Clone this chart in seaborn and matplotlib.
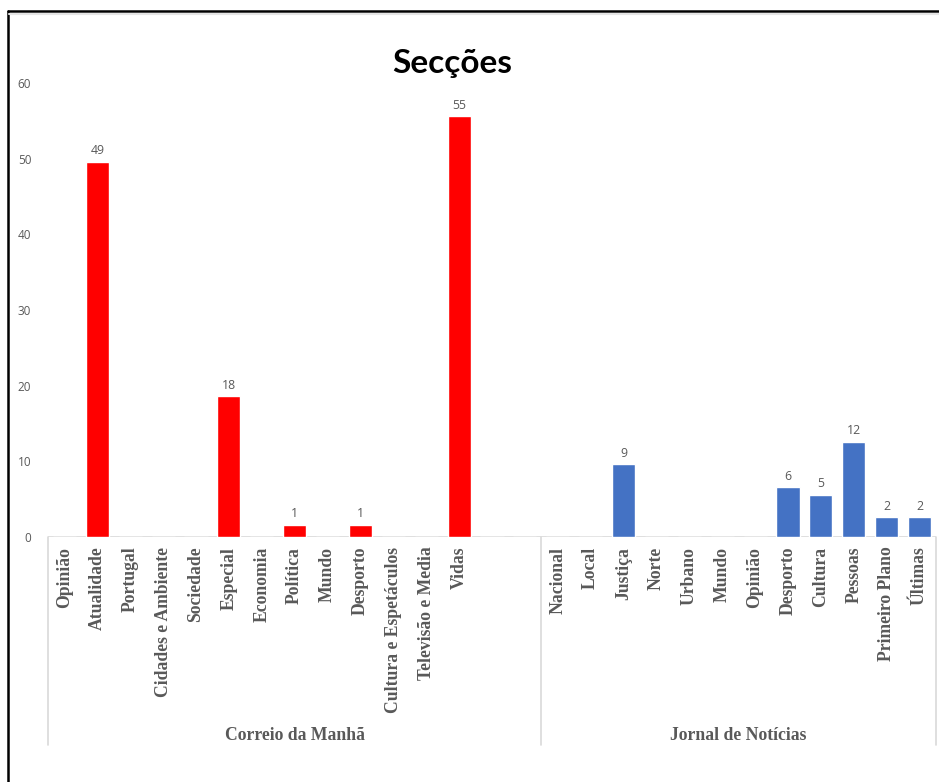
import matplotlib
matplotlib.use("Agg")
import matplotlib.pyplot as plt
from matplotlib.lines import Line2D
import seaborn as sns
import pandas as pd

# ---- data ----
cm_sections = ["Opinião", "Atualidade", "Portugal", "Cidades e Ambiente", "Sociedade",
               "Especial", "Economia", "Política", "Mundo", "Desporto",
               "Cultura e Espetáculos", "Televisão e Media", "Vidas"]
cm_values = [0, 49.6, 0, 0, 0, 18.6, 0, 1.6, 0, 1.6, 0, 0, 55.6]
cm_labels = ["", "49", "", "", "", "18", "", "1", "", "1", "", "", "55"]
cm_blank_slots = 2

jn_sections = ["Nacional", "Local", "Justiça", "Norte", "Urbano", "Mundo", "Opinião",
               "Desporto", "Cultura", "Pessoas", "Primeiro Plano", "Últimas"]
jn_values = [0, 0, 9.6, 0, 0, 0, 0, 6.6, 5.6, 12.6, 2.6, 2.6]
jn_labels = ["", "", "9", "", "", "", "", "6", "5", "12", "2", "2"]

groups = ["Correio da Manhã", "Jornal de Notícias"]
colors = {"Correio da Manhã": "#FF0000", "Jornal de Notícias": "#4472C4"}
title = "Secções"

# ---- build table ----
rows = []
tick_text = []
bar_text = []
for i, (s, v, l) in enumerate(zip(cm_sections, cm_values, cm_labels)):
    rows.append({"slot": f"cm{i}", "value": v, "grupo": groups[0]})
    tick_text.append(s); bar_text.append(l)
for k in range(cm_blank_slots):
    rows.append({"slot": f"cmblank{k}", "value": 0, "grupo": groups[0]})
    tick_text.append(""); bar_text.append("")
for i, (s, v, l) in enumerate(zip(jn_sections, jn_values, jn_labels)):
    rows.append({"slot": f"jn{i}", "value": v, "grupo": groups[1]})
    tick_text.append(s); bar_text.append(l)
df = pd.DataFrame(rows)
order = list(df["slot"])

sns.set_theme(style="white")
plt.rcParams["font.family"] = ["Liberation Serif", "DejaVu Sans"]

fig = plt.figure(figsize=(9.39, 7.82), dpi=100)
ax = fig.add_axes([48 / 939, (782 - 537) / 782, (936 - 48) / 939, (537 - 83) / 782])

sns.barplot(data=df, x="slot", y="value", hue="grupo", order=order, palette=colors,
            dodge=False, width=0.7, legend=False, ax=ax, errorbar=None, saturation=1)

ax.set_xlim(-0.5, len(order) - 0.5)
ax.set_ylim(0, 60)
ax.set_yticks(range(0, 61, 10))
ax.set_xlabel("")
ax.set_ylabel("")
for sp in ax.spines.values():
    sp.set_visible(False)
ax.axhline(0, color="#D9D9D9", lw=1.2, zorder=0)

ax.tick_params(axis="y", length=0, pad=12, labelcolor="#595959", labelsize=8.5)
for t in ax.get_yticklabels():
    t.set_fontfamily("Open Sans")

ax.set_xticks(range(len(order)))
ax.set_xticklabels(tick_text, rotation=90, fontsize=12.7, fontweight="bold",
                   color="#595959", va="top", ha="center")
ax.tick_params(axis="x", length=0, pad=7)

# data labels
for idx, (row, lab) in enumerate(zip(rows, bar_text)):
    if lab:
        ax.text(idx, row["value"] + 0.6, lab, ha="center", va="bottom",
                fontsize=8.8, color="#595959", family="Open Sans")

# group separators and labels
trans = ax.get_xaxis_transform()
n_cm = len(cm_sections) + cm_blank_slots
bounds = [-0.5, n_cm - 0.5, len(order) - 0.5]
for b in bounds:
    ax.plot([b, b], [0, -(745 - 537) / 454], transform=trans, color="#D9D9D9",
            lw=1.2, clip_on=False)
ax.text((bounds[0] + bounds[1]) / 2, -(735 - 537) / 454, groups[0], transform=trans,
        ha="center", va="center", fontsize=12.7, fontweight="bold", color="#595959")
ax.text((bounds[1] + bounds[2]) / 2, -(735 - 537) / 454, groups[1], transform=trans,
        ha="center", va="center", fontsize=12.7, fontweight="bold", color="#595959")

fig.text(452 / 939, 1 - 63 / 782, title, ha="center", va="center", fontsize=24,
         fontweight="bold", family="Lato", color="black")

# outer frame (left and top)
fig.add_artist(Line2D([8 / 939, 8 / 939], [0, 1 - 11 / 782], transform=fig.transFigure,
                      color="black", lw=1.8))
fig.add_artist(Line2D([8 / 939, 1], [1 - 11 / 782, 1 - 11 / 782], transform=fig.transFigure,
                      color="black", lw=1.8))
fig.add_artist(Line2D([9 / 939, 1], [1 - 13.5 / 782, 1 - 13.5 / 782], transform=fig.transFigure,
                      color="#E5E5E5", lw=1.5))

fig.savefig("out.png", dpi=100)
